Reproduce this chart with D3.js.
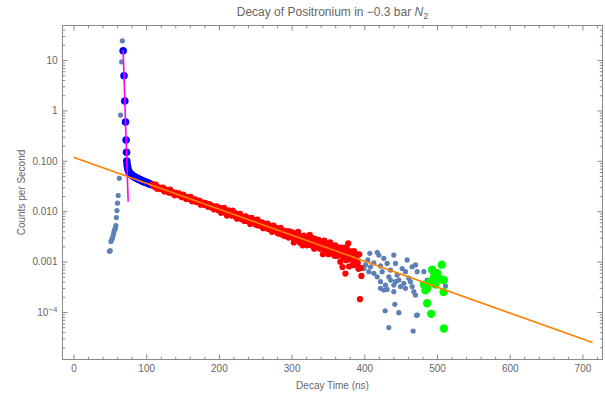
<!DOCTYPE html>
<html><head><meta charset="utf-8">
<script src="https://cdn.jsdelivr.net/npm/d3@7"></script>
<style>
body{margin:0;background:#fff}
svg{display:block}
text{font-family:"Liberation Sans",Arial,sans-serif}
</style>
</head><body>
<svg id="chart" width="605" height="394"></svg>
<script>
// ---------------- data ----------------
const title = "Decay of Positronium in \u22120.3 bar ";
const xLabel = "Decay Time (ns)";
const yLabel = "Counts per Second";

const xMajorTicks = [0, 100, 200, 300, 400, 500, 600, 700];
const xMinorTicks = [20, 40, 60, 80, 120, 140, 160, 180, 220, 240, 260, 280, 320, 340, 360, 380,
  420, 440, 460, 480, 520, 540, 560, 580, 620, 640, 660, 680, 720];
const yMajorTicks = [10, 1, 0.1, 0.01, 0.001, 0.0001];
const yMajorLabels = ["10", "1", "0.100", "0.010", "0.001", "10^-4"];
const yDecades = [0.00001, 0.0001, 0.001, 0.01, 0.1, 1, 10];
const yMinorSteps = [2, 3, 4, 5, 6, 7, 8, 9];

// raw data (steel blue): rising edge, peak, and late tail
const rawTime = [49.5, 50.5, 51.5, 52.5, 53.5, 54.5, 55.5, 56.5, 57.5, 58.3, 59.0, 59.8, 60.5, 61.5, 63.0, 64.8, 66.2, 67.2,
  399.3, 401.6, 404.8, 406.2, 407.6, 408.5, 413.1, 413.1, 417.7, 417.7, 420.0, 422.3, 422.3, 422.3, 424.5, 426.8, 426.8,
  428.7, 429.1, 431.4, 431.4, 433.7, 433.7, 436.0, 436.0, 440.6, 440.6, 440.6, 442.0, 442.9, 442.9, 445.2, 447.5, 447.5,
  449.8, 452.1, 454.3, 456.6, 456.6, 459.0, 461.2, 463.5, 465.8, 465.8, 467.2, 468.1, 470.4, 470.4, 471.8, 472.7,
  473.0, 481.9, 486.4, 497.9, 511.7];
const rawCounts = [0.0016, 0.00165, 0.0025, 0.0027, 0.0029, 0.0033, 0.0038, 0.0042, 0.0046, 0.0052, 0.0075, 0.0103, 0.0145, 0.0205, 0.045, 0.81, 9.2, 24,
  0.00073, 0.00086, 0.00108, 0.00063, 0.00146, 0.00079, 0.00095, 0.000585, 0.00153, 0.0005, 0.00135, 0.00082, 0.0004, 0.000295, 0.00063, 0.00116, 0.000273,
  0.000106, 0.000343, 0.00092, 0.00028, 0.0005, 0.000049, 0.00068, 0.00043, 0.00135, 0.000343, 0.000253, 0.000142, 0.00092, 0.0004, 0.00054, 0.00043, 0.000097,
  0.00032, 0.00073, 0.00037, 0.00063, 0.000295, 0.00108, 0.00047, 0.0004, 0.00079, 0.00032, 0.000042, 0.000253, 0.00086, 0.000217, 0.000086, 0.00063,
  0.000087, 0.00063, 0.00043, 0.0004, 0.000328];

// prompt peak + early tail used for the fast fit (blue)
const blueTime = [68.3, 69.5, 70.6, 71.6, 72.4, 72.95, 73.35, 73.8, 74.4, 75.0, 76.0, 77.0, 78.0, 79.0, 80.0, 81.0, 82.0, 83.0,
  84.0, 85.0, 86.0, 87.0, 88.0, 89.0, 90.0, 91.0, 92.0, 93.0, 94.0, 95.0, 96.0, 97.0, 98.0, 99.0, 100.0, 101.0, 102.0,
  103.0, 104.0, 105.0, 106.0, 107.0];
const blueCounts = [15.3, 4.87, 1.54, 0.59, 0.259, 0.148, 0.099, 0.084, 0.075, 0.068, 0.062, 0.058, 0.056, 0.0535, 0.0522, 0.0508, 0.0497, 0.0488,
  0.0478, 0.0469, 0.0462, 0.0450, 0.0446, 0.0437, 0.0431, 0.0424, 0.0417, 0.0410, 0.0404, 0.0398, 0.0394, 0.0386, 0.0381, 0.0377, 0.0370, 0.0367, 0.0361,
  0.0357, 0.0350, 0.0347, 0.0341, 0.0337];

// data used for the slow (ortho-positronium) fit (red)
const redTime = [108, 110, 112, 114, 116, 118, 120, 122, 124, 126, 128, 130, 132, 134, 136, 138, 140, 142, 144, 146, 148,
  150, 152, 154, 156, 158, 160, 162, 164, 166, 168, 170, 172, 174, 176, 178, 180, 182, 184, 186, 188, 190, 192, 194, 196, 198,
  200, 202, 204, 206, 208, 210, 212, 214, 216, 218, 220, 222, 224, 226, 228, 230, 232, 234, 236, 238, 240, 242, 244, 246, 248,
  250, 252, 254, 256, 258, 260, 262, 264, 266, 268, 270, 272, 274, 276, 278, 280, 282, 284, 286, 288, 290, 292, 294, 296, 298,
  300, 302, 304, 306, 308, 310, 312, 314, 316, 318, 320, 322, 324, 326, 328, 330, 332, 334, 336, 338, 340, 342, 344, 346, 348,
  350, 352, 354, 356, 358, 360, 362, 364, 366, 368, 370, 372, 374, 376, 378, 380, 382, 384, 386, 388, 390, 392, 394, 396,
  109, 111, 113, 115, 117, 119, 121, 123, 125, 127, 129, 131, 133, 135, 137, 139, 141, 143, 145, 147, 149,
  151, 153, 155, 157, 159, 161, 163, 165, 167, 169, 171, 173, 175, 177, 179, 181, 183, 185, 187, 189, 191, 193, 195, 197, 199,
  201, 203, 205, 207, 209, 211, 213, 215, 217, 219, 221, 223, 225, 227, 229, 231, 233, 235, 237, 239, 241, 243, 245, 247, 249,
  251, 253, 255, 257, 259, 261, 263, 265, 267, 269, 271, 273, 275, 277, 279, 281, 283, 285, 287, 289, 291, 293, 295, 297, 299,
  301, 303, 305, 307, 309, 311, 313, 315, 317, 319, 321, 323, 325, 327, 329, 331, 333, 335, 337, 339, 341, 343, 345, 347, 349,
  351, 353, 355, 357, 359, 361, 363, 365, 367, 369, 371, 373, 375, 377, 379, 381, 383, 385, 387, 389, 391, 393, 395];
const redCounts = [0.0334, 0.0321, 0.0306, 0.0313, 0.0297, 0.0289, 0.0287, 0.0278, 0.0266, 0.0270, 0.0259, 0.0248, 0.0251, 0.0238, 0.0236, 0.0226, 0.0228, 0.0214, 0.0217, 0.0205, 0.0206,
  0.0195, 0.0200, 0.0186, 0.0188, 0.0177, 0.0182, 0.0168, 0.0171, 0.0160, 0.0165, 0.0153, 0.0156, 0.0150, 0.0141, 0.0148, 0.0135, 0.0139, 0.0131, 0.0125, 0.0132, 0.0120, 0.0124, 0.0114, 0.0119, 0.0108,
  0.0115, 0.0104, 0.0100, 0.0109, 0.0095, 0.0101, 0.0098, 0.0087, 0.0094, 0.0085, 0.0091, 0.0080, 0.0087, 0.0076, 0.0083, 0.0079, 0.0069, 0.0077, 0.0071, 0.0064, 0.0073, 0.0062, 0.0068, 0.0059, 0.0066,
  0.0057, 0.0063, 0.0052, 0.0060, 0.0055, 0.0050, 0.0057, 0.0047, 0.0053, 0.0045, 0.0051, 0.0043, 0.0049, 0.0040, 0.0046, 0.0044, 0.0036, 0.0043, 0.0035, 0.0041, 0.0038, 0.0032, 0.0040, 0.0030, 0.0037,
  0.0034, 0.0031, 0.0027, 0.0036, 0.0030, 0.0028, 0.0025, 0.0032, 0.0029, 0.0024, 0.0027, 0.0030, 0.0022, 0.0026, 0.0024, 0.0029, 0.0021, 0.0023, 0.0026, 0.0019, 0.0022, 0.0025, 0.0017, 0.0021, 0.0023,
  0.0016, 0.0019, 0.0022, 0.0015, 0.0018, 0.0021, 0.0013, 0.0017, 0.0014, 0.0019, 0.00078, 0.0015, 0.00058, 0.0018, 0.0023, 0.0011, 0.0014, 0.00085, 0.0016, 0.0010, 0.0013, 0.00072, 0.00018, 0.00052,
  0.0342, 0.0310, 0.0336, 0.0280, 0.0297, 0.0275, 0.0292, 0.0295, 0.0247, 0.0259, 0.0262, 0.0234, 0.0267, 0.0229, 0.0237, 0.0207, 0.0231, 0.0210, 0.0225, 0.0206, 0.0190,
  0.0214, 0.0196, 0.0175, 0.0190, 0.0176, 0.0192, 0.0157, 0.0169, 0.0172, 0.0152, 0.0154, 0.0162, 0.0135, 0.0148, 0.0136, 0.0147, 0.0134, 0.0123, 0.0139, 0.0121, 0.0128, 0.0109, 0.0119, 0.0125, 0.0105,
  0.0116, 0.0093, 0.0106, 0.0117, 0.0093, 0.0082, 0.0104, 0.0095, 0.0082, 0.0103, 0.0083, 0.0091, 0.0071, 0.0084, 0.0089, 0.0070, 0.0074, 0.0064, 0.0079, 0.0066, 0.0070, 0.0056, 0.0074, 0.0059, 0.0066,
  0.0054, 0.0068, 0.0058, 0.0052, 0.0060, 0.0046, 0.0055, 0.0049, 0.0057, 0.0044, 0.0050, 0.0039, 0.0052, 0.0043, 0.0047, 0.0037, 0.0042, 0.0047, 0.0037, 0.0033, 0.0041, 0.0037, 0.0033, 0.0040, 0.0033,
  0.0038, 0.0024, 0.0034, 0.0028, 0.0039, 0.0024, 0.0030, 0.0021, 0.0033, 0.0027, 0.0021, 0.0029, 0.0034, 0.0021, 0.0026, 0.0018, 0.0028, 0.0021, 0.0027, 0.0018, 0.0022, 0.0014, 0.0026, 0.0019, 0.0021,
  0.0014, 0.0024, 0.0016, 0.0020, 0.0013, 0.0016, 0.0013, 0.0019, 0.00099, 0.0016, 0.0012, 0.0019, 0.00107, 0.0014, 0.00080, 0.0016, 0.0011, 0.0016, 0.00086, 0.0014, 0.00095, 0.0014, 0.00075];

// late points (green)
const greenTime = [482.0, 484.0, 486.4, 486.4, 491.0, 492.0, 493.3, 496.0, 498.0, 500.2, 505.0, 506.5, 509.0, 509.4, 509.4];
const greenCounts = [0.00035, 0.00027, 0.000295, 0.000149, 0.0004, 0.000092, 0.00069, 0.0005, 0.00035, 0.00059, 0.00045, 0.00087, 0.00025, 0.00043, 0.000047];

// fitted lines (end points)
const fastFitTime = [68.3, 75.2];
const fastFitCounts = [15.8, 0.0155];
const slowFitTime = [0, 714];
const slowFitCounts = [0.118, 0.0000247];

// ---------------- drawing ----------------
const L = 62.5, R = 602.5, T = 25.5, B = 359.5;
const svg = d3.select("#chart");
const x = d3.scaleLinear().domain([-15.1, 727.6]).range([L, R]);
const y = d3.scaleLog().domain([48.4, 1.142e-5]).range([T, B]);

const frameCol = "#8a8a8a", textCol = "#666";

function dots(xs, ys, r, col) {
  svg.append("g").selectAll("circle").data(xs.map((t, i) => [t, ys[i]])).join("circle")
    .attr("cx", d => x(d[0])).attr("cy", d => y(d[1])).attr("r", r).attr("fill", col);
}

dots(rawTime, rawCounts, 2.6, "#5E81B5");
dots(blueTime, blueCounts, 3.8, "#0000FF");
dots(redTime, redCounts, 3.1, "#FF0000");
dots(greenTime, greenCounts, 4.2, "#00FF00");

const line = d3.line().x(d => x(d[0])).y(d => y(d[1]));
svg.append("path").attr("d", line(fastFitTime.map((t, i) => [t, fastFitCounts[i]])))
  .attr("stroke", "#FF00FF").attr("stroke-width", 1.6).attr("fill", "none");
svg.append("path").attr("d", line(slowFitTime.map((t, i) => [t, slowFitCounts[i]])))
  .attr("stroke", "#FF8000").attr("stroke-width", 1.6).attr("fill", "none");

// frame
svg.append("rect").attr("x", L).attr("y", T).attr("width", R - L).attr("height", B - T)
  .attr("fill", "none").attr("stroke", frameCol).attr("stroke-width", 1);

const yMinor = [];
yDecades.forEach(d => yMinorSteps.forEach(m => { const v = d * m; if (v > 1.142e-5 && v < 48.4) yMinor.push(v); }));

function styleAxis(g) {
  g.select(".domain").remove();
  g.selectAll(".tick line").attr("stroke", frameCol);
  g.selectAll(".tick text").attr("fill", textCol).attr("font-size", 10)
    .attr("font-family", "'Liberation Sans',Arial,sans-serif");
}
// bottom
svg.append("g").attr("transform", `translate(0,${B})`)
  .call(d3.axisBottom(x).tickValues(xMajorTicks).tickSize(-5).tickPadding(5).tickFormat(d3.format("d"))).call(styleAxis);
svg.append("g").attr("transform", `translate(0,${B})`)
  .call(d3.axisBottom(x).tickValues(xMinorTicks).tickSize(-2.7).tickFormat("")).call(styleAxis);
// top
svg.append("g").attr("transform", `translate(0,${T})`)
  .call(d3.axisTop(x).tickValues(xMajorTicks).tickSize(-5).tickFormat("")).call(styleAxis);
svg.append("g").attr("transform", `translate(0,${T})`)
  .call(d3.axisTop(x).tickValues(xMinorTicks).tickSize(-2.7).tickFormat("")).call(styleAxis);
// left
const leftAx = svg.append("g").attr("transform", `translate(${L},0)`)
  .call(d3.axisLeft(y).tickValues(yMajorTicks).tickSize(-5).tickPadding(5)
    .tickFormat((d, i) => yMajorLabels[i])).call(styleAxis);
svg.append("g").attr("transform", `translate(${L},0)`)
  .call(d3.axisLeft(y).tickValues(yMinor).tickSize(-2.7).tickFormat("")).call(styleAxis);
// right
svg.append("g").attr("transform", `translate(${R},0)`)
  .call(d3.axisRight(y).tickValues(yMajorTicks).tickSize(-5).tickFormat("")).call(styleAxis);
svg.append("g").attr("transform", `translate(${R},0)`)
  .call(d3.axisRight(y).tickValues(yMinor).tickSize(-2.7).tickFormat("")).call(styleAxis);

// power-of-ten label with superscript
leftAx.selectAll(".tick text").each(function (d, i) {
  const lab = yMajorLabels[i];
  if (lab.indexOf("^") >= 0) {
    const [b, e] = lab.split("^");
    const t = d3.select(this).text("");
    t.append("tspan").text(b);
    t.append("tspan").attr("dy", "-0.45em").attr("font-size", 8).text(e.replace("-", "\u2212"));
  }
});

// titles
const tt = svg.append("text").attr("x", (L + R) / 2).attr("y", 16).attr("text-anchor", "middle")
  .attr("font-size", 12).attr("fill", textCol).text(title);
tt.append("tspan").attr("font-style", "italic").text("N");
tt.append("tspan").attr("font-size", 9).attr("dy", "0.3em").text("2");

svg.append("text").attr("x", (L + R) / 2).attr("y", 389).attr("text-anchor", "middle")
  .attr("font-size", 10).attr("fill", textCol).text(xLabel);
svg.append("text").attr("transform", `translate(25,${(T + B) / 2}) rotate(-90)`).attr("text-anchor", "middle")
  .attr("font-size", 10).attr("fill", textCol).text(yLabel);
</script>
</body></html>
